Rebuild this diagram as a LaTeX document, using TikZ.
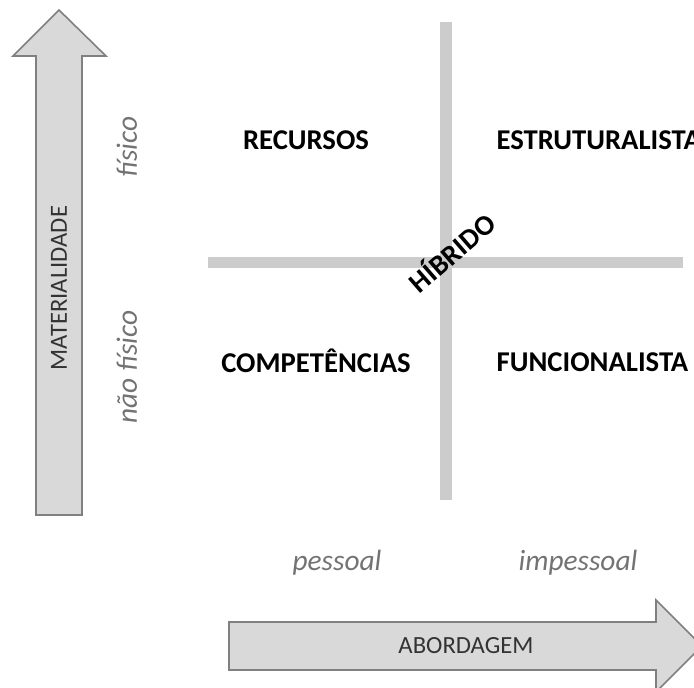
\documentclass[tikz,border=0pt]{standalone}
\usepackage{fontspec}
\setmainfont{Carlito}
\begin{document}
\begin{tikzpicture}[x=0.75pt,y=-0.75pt,
  bigarrow/.style={draw=black!50,fill=black!15,line width=1.2pt},
  axisline/.style={draw=black!20,line width=8.5pt},
  quad/.style={font=\fontsize{21.5}{25}\selectfont\bfseries,text=black},
  pole/.style={font=\fontsize{22}{26}\selectfont\itshape,text=black!55},
  axislabel/.style={font=\fontsize{18.5}{22}\selectfont,text=black!80}]
\useasboundingbox (0,0) rectangle (694,688);
\clip (0,0) rectangle (694,688);
% up arrow
\draw[bigarrow] (36,515) -- (36,56) -- (13,56) -- (59,10) -- (106,56) -- (82,56) -- (82,515) -- cycle;
% right arrow
\draw[bigarrow] (229,622) -- (656,622) -- (656,600) -- (702,646) -- (656,692) -- (656,670) -- (229,670) -- cycle;
% cross
\coordinate (vt) at (446,22);
\coordinate (vb) at (446,500);
\coordinate (hl) at (208,262.5);
\coordinate (hr) at (683,262.5);
\draw[axisline] (vt) -- (vb);
\draw[axisline] (hl) -- (hr);
% labels
\node[axislabel,rotate=90] (mat) at (59,288) {MATERIALIDADE};
\node[axislabel] (abo) at (466,646) {ABORDAGEM};
\node[pole,rotate=90] (fis) at (127,147) {físico};
\node[pole,rotate=90] (nfis) at (127,367) {não físico};
\node[pole] (pes) at (337,563) {pessoal};
\node[pole] (imp) at (578,563) {impessoal};
\node[quad] (rec) at (306,140) {RECURSOS};
\node[quad,anchor=west] (est) at (492,140) {ESTRUTURALISTA};
\node[quad] (comp) at (316,361) {COMPETÊNCIAS};
\node[quad,anchor=west] (fun) at (492,362) {FUNCIONALISTA};
\node[quad,rotate=41] (hib) at (451,252) {HÍBRIDO};
\end{tikzpicture}
\end{document}
